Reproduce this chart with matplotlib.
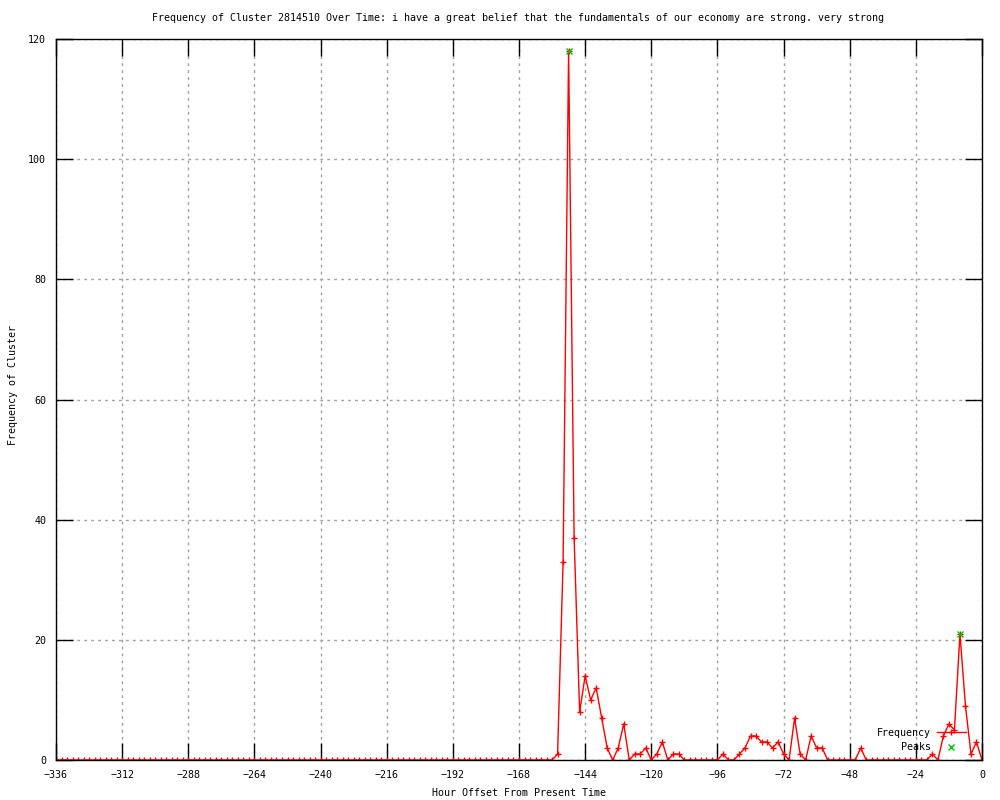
import numpy as np
import matplotlib
matplotlib.use("Agg")
import matplotlib.pyplot as plt

# Datos: frecuencia del cluster cada 2 horas, desde -336 h hasta 0 h
hours = np.arange(-336, 1, 2)

frequency = [
    0, 0, 0, 0, 0, 0, 0, 0, 0, 0, 0, 0, 0, 0, 0, 0, 0, 0, 0, 0,   # -336 .. -298
    0, 0, 0, 0, 0, 0, 0, 0, 0, 0, 0, 0, 0, 0, 0, 0, 0, 0, 0, 0,   # -296 .. -258
    0, 0, 0, 0, 0, 0, 0, 0, 0, 0, 0, 0, 0, 0, 0, 0, 0, 0, 0, 0,   # -256 .. -218
    0, 0, 0, 0, 0, 0, 0, 0, 0, 0, 0, 0, 0, 0, 0, 0, 0, 0, 0, 0,   # -216 .. -178
    0, 0, 0, 0, 0, 0, 0, 0, 0, 0, 0,                              # -176 .. -156
    1, 33, 118, 37, 8, 14, 10, 12, 7, 2, 0, 2,                    # -154 .. -132
    6, 0, 1, 1, 2, 0, 1, 3, 0, 1, 1, 0,                           # -130 .. -108
    0, 0, 0, 0, 0, 0,                                             # -106 .. -96
    1, 0, 0, 1, 2, 4, 4, 3, 3, 2, 3, 1, 0, 7, 1, 0, 4, 2, 2, 0,   # -94 .. -56
    0, 0, 0, 0, 0, 2,                                             # -54 .. -44
    0, 0, 0, 0, 0, 0, 0, 0, 0, 0, 0, 0,                           # -42 .. -20
    1, 0, 4, 6, 5, 21, 9, 1, 3, 0,                                # -18 .. 0
]

peak_hours = [-150, -8]
peak_values = [118, 21]

xticks = np.arange(-336, 1, 24)
yticks = np.arange(0, 121, 20)

title = ("Frequency of Cluster 2814510 Over Time: i have a great belief "
         "that the fundamentals of our economy are strong. very strong")

plt.rcParams['font.family'] = ['DejaVu Sans Mono']
plt.rcParams['font.size'] = 7.2

fig = plt.figure(figsize=(10, 8), dpi=100)
ax = fig.add_axes([0.056, 0.05, 0.926, 0.90125])

ax.plot(hours, frequency, color='red', linewidth=1, marker='+',
        markersize=5, markeredgewidth=1, label='Frequency')
ax.plot(peak_hours, peak_values, linestyle='none', color='#00c000',
        marker='x', markersize=5, markeredgewidth=1, label='Peaks')

ax.set_xlim(-336, 0)
ax.set_ylim(0, 120)
ax.set_xticks(xticks)
ax.set_yticks(yticks)

ax.tick_params(direction='in', length=12, width=1, top=True, right=True,
               colors='black')
ax.tick_params(axis='x', pad=7)
ax.tick_params(axis='y', pad=7)

ax.grid(True, color='#a0a0a0', linestyle=(0, (2, 3)), linewidth=1)
for s in ax.spines.values():
    s.set_linewidth(1)
    s.set_color('black')

# Textos (posiciones como en gnuplot)
fig.text(0.518, 1 - 18 / 800, title, ha='center', va='center', fontsize=7.2)
fig.text(0.519, 1 - 793 / 800, "Hour Offset From Present Time",
         ha='center', va='center')
fig.text(0.013, 1 - 385 / 800, "Frequency of Cluster", rotation=90,
         ha='center', va='center')

ax.legend(loc='lower right', bbox_to_anchor=(0.988, 0.004), frameon=False,
          markerfirst=False, numpoints=1, handlelength=2.9,
          handletextpad=0.6, labelspacing=0.45, borderpad=0)

fig.savefig("out.png", dpi=100)
